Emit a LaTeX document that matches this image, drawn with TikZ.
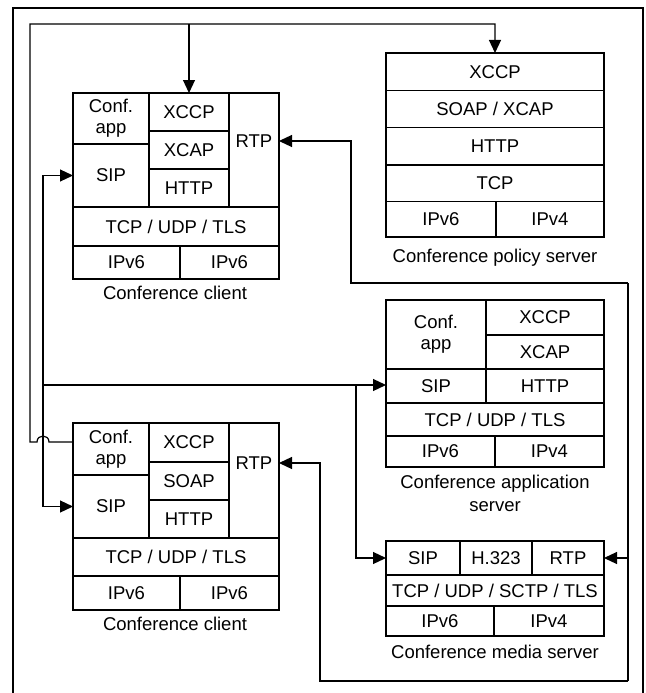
\documentclass[tikz,border=0pt]{standalone}
\usepackage{fontspec}
\setmainfont{Liberation Sans}
\usetikzlibrary{arrows.meta,calc}
\newcommand\cell[6]{\node[cell,minimum width={(#4-#2)*1pt},minimum height={(#5-#3)*1pt}] (#1) at ({(#2+#4)/2},{(#3+#5)/2}) {#6};}
\begin{document}
\begin{tikzpicture}[x=1pt,y=-1pt,
  cell/.style={draw,line width=1.2pt,inner sep=0pt,outer sep=0pt,align=center,font=\fontsize{18.5}{21}\selectfont},
  lbl/.style={inner sep=0pt,align=center,font=\fontsize{18.5}{23}\selectfont},
  wire/.style={line width=1.2pt},
  arr/.style={wire,-{Triangle[length=13pt,width=12pt]}},
  arrs/.style={wire,{Triangle[length=13pt,width=12pt]}-{Triangle[length=13pt,width=12pt]}}]
\useasboundingbox (0,0) rectangle (645,693);
% frame
\draw[wire] (13,693) -- (13,8) -- (643,8) -- (643,693);

% upper conference client
\cell{ucconf}{73}{93}{149}{144}{Conf.\\app}
\cell{ucsip}{73}{144}{149}{207}{SIP}
\cell{ucxccp}{149}{93}{229}{131}{XCCP}
\cell{ucxcap}{149}{131}{229}{169}{XCAP}
\cell{uchttp}{149}{169}{229}{207}{HTTP}
\cell{ucrtp}{229}{93}{279}{207}{}
\node[lbl] (ucrtpt) at (254,141) {RTP};
\cell{uctcp}{73}{207}{279}{246}{TCP / UDP / TLS}
\cell{ucipa}{73}{246}{180}{279}{IPv6}
\cell{ucipb}{180}{246}{279}{279}{IPv6}
\node[lbl] (ucl) at (175,293) {Conference client};

% lower conference client
\cell{lcconf}{73}{423}{149}{475}{Conf.\\app}
\cell{lcsip}{73}{475}{149}{538}{SIP}
\cell{lcxccp}{149}{423}{229}{462}{XCCP}
\cell{lcsoap}{149}{462}{229}{500}{SOAP}
\cell{lchttp}{149}{500}{229}{538}{HTTP}
\cell{lcrtp}{229}{423}{279}{538}{}
\node[lbl] (lcrtpt) at (254,463) {RTP};
\cell{lctcp}{73}{538}{279}{576}{TCP / UDP / TLS}
\cell{lcipa}{73}{576}{180}{610}{IPv6}
\cell{lcipb}{180}{576}{279}{610}{IPv6}
\node[lbl] (lcl) at (175,624) {Conference client};

% policy server
\cell{psxccp}{386}{53}{604}{90.7}{XCCP}
\cell{pssoap}{386}{90.7}{604}{127.3}{SOAP / XCAP}
\cell{pshttp}{386}{127.3}{604}{165}{HTTP}
\cell{pstcp}{386}{165}{604}{201.7}{TCP}
\cell{psipa}{386}{201.7}{496}{237}{IPv6}
\cell{psipb}{496}{201.7}{604}{237}{IPv4}
\node[lbl] (psl) at (495,258) {Conference policy server};

% application server
\cell{asconf}{386}{300}{486}{369}{Conf.\\app}
\cell{asxccp}{486}{300}{604}{335}{XCCP}
\cell{asxcap}{486}{335}{604}{369}{XCAP}
\cell{assip}{386}{369}{486}{403}{SIP}
\cell{ashttp}{486}{369}{604}{403}{HTTP}
\cell{astcp}{386}{403}{604}{436}{TCP / UDP / TLS}
\cell{asipa}{386}{436}{495}{467}{IPv6}
\cell{asipb}{495}{436}{604}{467}{IPv4}
\node[lbl] (asl) at (495,493) {Conference application\\server};

% media server
\cell{mssip}{386}{541}{460}{575}{SIP}
\cell{msh}{460}{541}{532}{575}{H.323}
\cell{msrtp}{532}{541}{604}{575}{RTP}
\cell{mstcp}{386}{575}{604}{606}{TCP / UDP / SCTP / TLS}
\cell{msipa}{386}{606}{494}{636}{IPv6}
\cell{msipb}{494}{606}{604}{636}{IPv4}
\node[lbl] (msl) at (495,652) {Conference media server};

% coordinates
\coordinate (loopc) at (30,442);
\coordinate (looptop) at (30,24);
\coordinate (hopR) at (49,442);
\coordinate (hopL) at (37,442);
\coordinate (bus) at (43,385);
\coordinate (bus2) at (356,385);
\coordinate (rt) at (628,283);
\coordinate (rb) at (628,681);
\coordinate (rj1) at (351,283);
\coordinate (rj2) at (320,681);

% XCCP loop
\draw[arr] (lcconf.west |- loopc) -- (hopR) .. controls ($(hopR)+(0,-8)$) and ($(hopL)+(0,-8)$) .. (hopL) -- (loopc) -- (looptop) -| (psxccp.north);
\draw[arr] (ucxccp.north |- looptop) -- (ucxccp.north);

% SIP bus
\draw[arrs] (ucsip.west) -| (bus) |- (lcsip.west);
\draw[arr] (bus) -- (assip.west |- bus);
\draw[arr] (bus2) |- (mssip.west);

% RTP
\draw[arr] (rt) -- (rj1) |- (ucrtp.east |- ucrtpt);
\draw[wire] (rt) -- (rb);
\draw[arr] (rb) -- (rj2) |- (lcrtp.east |- lcrtpt);
\draw[arr] (rb |- msrtp.east) -- (msrtp.east);
\end{tikzpicture}
\end{document}
